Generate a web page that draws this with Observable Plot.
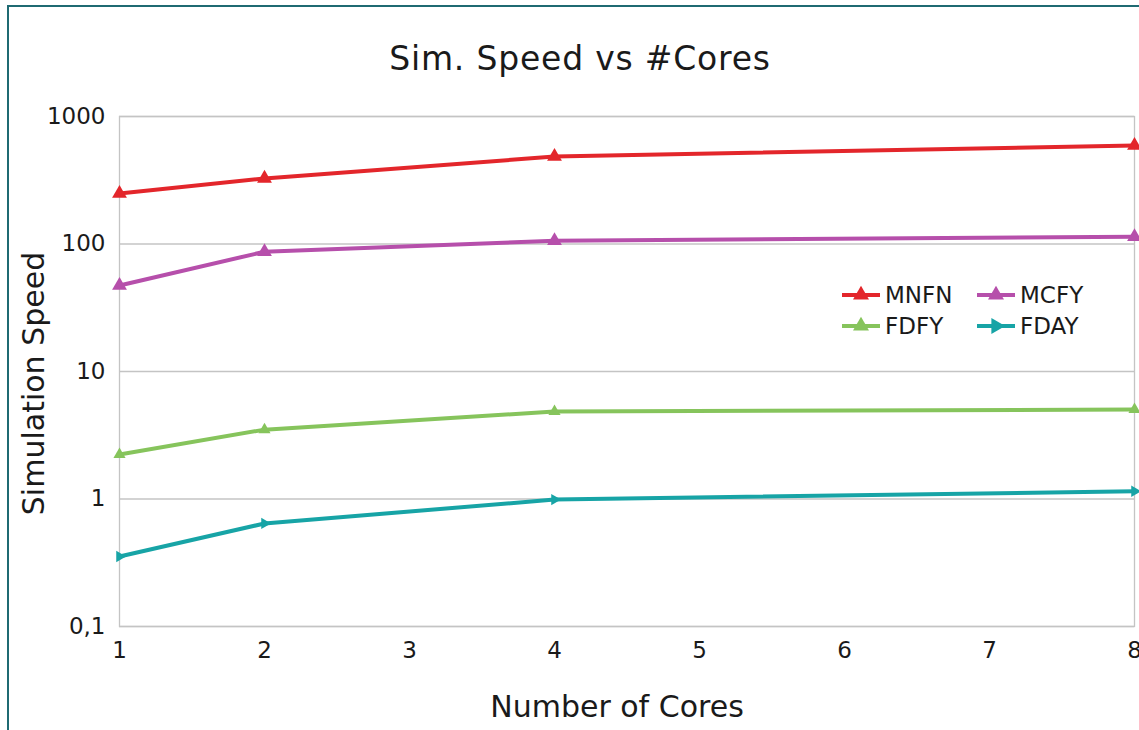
<!DOCTYPE html>
<html>
<head>
<meta charset="utf-8">
<script src="https://cdn.jsdelivr.net/npm/d3@7"></script>
<script src="https://cdn.jsdelivr.net/npm/@observablehq/plot@0.6"></script>
<style>
  html, body { margin: 0; padding: 0; background: #fff; }
  #wrap { position: relative; width: 1139px; height: 730px; overflow: hidden; font-family: "DejaVu Sans", sans-serif; color: #1a1a1a; }
  #border { position: absolute; left: 7px; top: 5px; width: 1200px; height: 800px; border-left: 2px solid #1f6a72; border-top: 2px solid #1f6a72; }
  #title { position: absolute; left: 0; width: 1160px; top: 41px; text-align: center; font-size: 33px; letter-spacing: 0.8px; line-height: 36px; }
  #chart { position: absolute; left: 0; top: 0; }
  #legend { position: absolute; left: 842px; top: 280px; font-size: 23px; line-height: 30px; }
  .item { position: absolute; white-space: nowrap; display: flex; align-items: center; }
  .item svg { margin-right: 5px; }
</style>
</head>
<body>
<div id="wrap">
  <div id="border"></div>
  <div id="chart"></div>
  <div id="title"></div>
  <div id="legend"></div>
</div>
<script>
const cores = [1, 2, 4, 8];
const seriesNames = ["MNFN", "MCFY", "FDFY", "FDAY"];
const seriesColors = ["#e3262b", "#b64fab", "#86c45c", "#17a4a6"];
const MNFN = [249, 327, 485, 593];
const MCFY = [47.3, 87, 106, 114];
const FDFY = [2.23, 3.5, 4.85, 5.03];
const FDAY = [0.354, 0.643, 0.99, 1.15];
const xTicks = [1, 2, 3, 4, 5, 6, 7, 8];
const yTicks = [0.1, 1, 10, 100, 1000];
const yTickLabels = ["0,1", "1", "10", "100", "1000"];
const titleText = "Sim. Speed vs #Cores";
const xLabel = "Number of Cores";
const yLabel = "Simulation Speed";

const valuesBySeries = {MNFN, MCFY, FDFY, FDAY};
const data = seriesNames.flatMap(s => cores.map((c, i) => ({series: s, cores: c, speed: valuesBySeries[s][i]})));
const colorOf = s => seriesColors[seriesNames.indexOf(s)];

const rightTriangle = {
  draw(context, size) {
    const h = Math.sqrt(size / (Math.sqrt(3) * 3));
    context.moveTo(h * 2, 0);
    context.lineTo(-h, -Math.sqrt(3) * h);
    context.lineTo(-h, Math.sqrt(3) * h);
    context.closePath();
  }
};
const markerStyle = {
  MNFN: {symbol: "triangle", r: 5.5},
  MCFY: {symbol: "triangle", r: 5.5},
  FDFY: {symbol: "triangle", r: 4.5},
  FDAY: {symbol: rightTriangle, r: 4.2}
};

const chart = Plot.plot({
  width: 1139,
  height: 730,
  marginLeft: 119,
  marginRight: 5,
  marginTop: 116,
  marginBottom: 104,
  style: {fontFamily: "DejaVu Sans, sans-serif", fontSize: "23px", color: "#1a1a1a", background: "transparent"},
  x: {type: "linear", domain: [1, 8]},
  y: {type: "log", domain: [0.1, 1000]},
  color: {domain: seriesNames, range: seriesColors},
  marks: [
    Plot.gridY(yTicks, {stroke: "#c4c4c4", strokeOpacity: 1, strokeWidth: 1.3}),
    Plot.frame({stroke: "#c4c4c4", strokeWidth: 1.3}),
    Plot.axisY(yTicks, {tickSize: 0, tickPadding: 14, tickFormat: d => yTickLabels[yTicks.indexOf(d)], label: null, fontSize: 23}),
    Plot.axisX(xTicks, {tickSize: 0, tickPadding: 15, tickFormat: d3.format("d"), label: null, fontSize: 23}),
    Plot.line(data, {x: "cores", y: "speed", z: "series", stroke: "series", strokeWidth: 4}),
    ...seriesNames.map(s => Plot.dot(data.filter(d => d.series === s), {
      x: "cores", y: "speed", fill: colorOf(s), stroke: "none",
      symbol: markerStyle[s].symbol, r: markerStyle[s].r
    })),
    Plot.text([yLabel], {frameAnchor: "left", textAnchor: "middle", dx: -85, dy: 12, rotate: -90, fontSize: 30, text: d => d, fill: "#1a1a1a"}),
    Plot.text([xLabel], {frameAnchor: "bottom", dy: 90, dx: -10, fontSize: 30, text: d => d, fill: "#1a1a1a"})
  ]
});
document.getElementById("chart").appendChild(chart);
document.getElementById("title").textContent = titleText;

// legend
const legend = document.getElementById("legend");
const legendPos = [[0, 0], [135, 0], [0, 31], [135, 31]];
seriesNames.forEach((s, i) => {
  const item = document.createElement("div");
  item.className = "item";
  item.style.left = legendPos[i][0] + "px";
  item.style.top = legendPos[i][1] + "px";
  const ns = "http://www.w3.org/2000/svg";
  const sv = document.createElementNS(ns, "svg");
  sv.setAttribute("width", 38); sv.setAttribute("height", 20);
  const ln = document.createElementNS(ns, "line");
  ln.setAttribute("x1", 0); ln.setAttribute("x2", 38); ln.setAttribute("y1", 10); ln.setAttribute("y2", 10);
  ln.setAttribute("stroke", colorOf(s)); ln.setAttribute("stroke-width", 4);
  sv.appendChild(ln);
  const p = document.createElementNS(ns, "path");
  const sym = s === "FDAY" ? rightTriangle : d3.symbolTriangle;
  p.setAttribute("d", d3.symbol(sym, 110)());
  p.setAttribute("transform", "translate(19,10)");
  p.setAttribute("fill", colorOf(s));
  sv.appendChild(p);
  item.appendChild(sv);
  const t = document.createElement("span");
  t.textContent = s;
  item.appendChild(t);
  legend.appendChild(item);
});
</script>
</body>
</html>
